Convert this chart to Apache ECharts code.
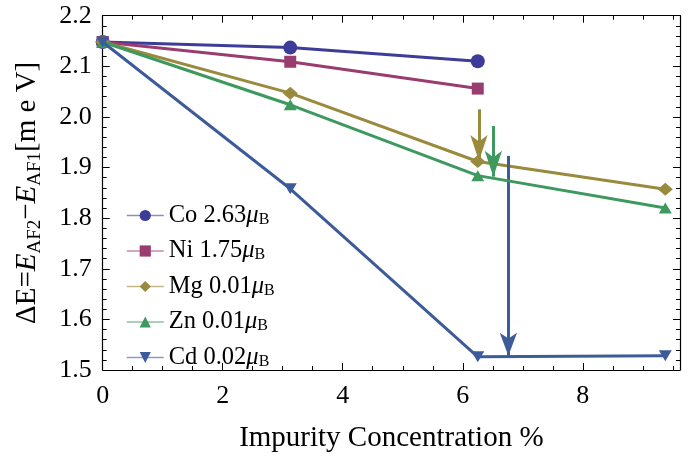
<!DOCTYPE html>
<html>
<head>
<meta charset="utf-8">
<script src="https://cdn.jsdelivr.net/npm/echarts@6/dist/echarts.min.js"></script>
<style>html,body{margin:0;padding:0;background:#fff}#c{width:688px;height:458px}</style>
</head>
<body>
<div id="c"></div>
<script>
// Data
const conc = [0, 3.125, 6.25, 9.375];
const coVals = [2.148, 2.137, 2.110];
const niVals = [2.148, 2.109, 2.056];
const mgVals = [2.148, 2.047, 1.912, 1.857];
const znVals = [2.148, 2.024, 1.884, 1.820];
const cdVals = [2.148, 1.858, 1.526, 1.528];
const names = ['Co', 'Ni', 'Mg', 'Zn', 'Cd'];
const moments = ['2.63', '1.75', '0.01', '0.01', '0.02'];
// arrows: [x, yStart, yTip]
const mgArrow = [6.27, 2.015, 1.913];
const znArrow = [6.51, 1.982, 1.882];
const cdArrow = [6.76, 1.923, 1.528];
const xTicks = [0, 2, 4, 6, 8];
const yTicks = [1.5, 1.6, 1.7, 1.8, 1.9, 2.0, 2.1, 2.2];

const colors = ['#3d3d99', '#993d71', '#998a3d', '#3d995e', '#3d5b99'];
const FONT = 'Liberation Serif';

function pts(vals) { return vals.map((v, i) => [conc[i], v]); }
function arrow(a, color, size) {
  return {
    silent: true,
    symbol: ['none', 'arrow'],
    symbolSize: size,
    label: { show: false },
    lineStyle: { color: color, width: 3, type: 'solid' },
    emphasis: { disabled: true },
    data: [[{ coord: [a[0], a[1]] }, { coord: [a[0], a[2]] }]]
  };
}
const symbols = ['circle', 'rect', 'diamond', 'triangle', 'triangle'];
const symSizes = [14, 12, [15, 13], [13, 11], [13, 11]];
const rots = [0, 0, 0, 0, 180];
const valsAll = [coVals, niVals, mgVals, znVals, cdVals];
const arrows = [null, null, mgArrow, znArrow, cdArrow];
const arrowSizes = [null, null, [13, 26], [13, 26], [13, 23]];

const series = names.map((n, i) => {
  const s = {
    name: n,
    type: 'line',
    data: pts(valsAll[i]),
    symbol: symbols[i],
    symbolSize: symSizes[i],
    symbolRotate: rots[i],
    showAllSymbol: true,
    lineStyle: { color: colors[i], width: 3 },
    itemStyle: { color: colors[i] },
    emphasis: { disabled: true },
    z: 2 + i
  };
  if (arrows[i]) s.markLine = arrow(arrows[i], colors[i], arrowSizes[i]);
  return s;
});

const tickStyle = { inside: true, length: 7, lineStyle: { color: '#000', width: 1 } };
const minorStyle = { show: true, length: 4, lineStyle: { color: '#000', width: 1 } };
const axisLine = { show: true, onZero: false, lineStyle: { color: '#000', width: 1.2 } };

const chart = echarts.init(document.getElementById('c'), null, { renderer: 'canvas' });
chart.setOption({
  animation: false,
  backgroundColor: '#fff',
  grid: { left: 102.7, top: 15.7, right: 8, bottom: 84.7 },
  legend: {
    orient: 'vertical',
    left: 126,
    top: 203,
    padding: 0,
    itemWidth: 37,
    itemHeight: 14,
    itemGap: 10.5,
    lineStyle: { width: 1.5, opacity: 0.6 },
    data: names,
    formatter: function (n) {
      const i = names.indexOf(n);
      return '{t|' + n + ' ' + moments[i] + '}{mu|μ}{sub|B}';
    },
    textStyle: {
      fontFamily: FONT,
      fontSize: 24.5,
      color: '#000',
      rich: {
        t: { fontFamily: FONT, fontSize: 24.5, lineHeight: 24, color: '#000' },
        mu: { fontFamily: FONT, fontSize: 24.5, fontStyle: 'italic', lineHeight: 24, color: '#000' },
        sub: { fontFamily: FONT, fontSize: 16, lineHeight: 24, verticalAlign: 'bottom', padding: [8, 0, 0, 0], color: '#000' }
      }
    }
  },
  xAxis: [{
    type: 'value', min: 0, max: 9.62, interval: 2,
    axisLine: axisLine,
    axisTick: tickStyle,
    minorTick: Object.assign({ splitNumber: 4 }, minorStyle),
    splitLine: { show: false },
    axisLabel: {
      fontFamily: FONT, fontSize: 26, color: '#000', margin: 13,
      showMaxLabel: false,
      formatter: v => xTicks.indexOf(v) >= 0 ? String(v) : ''
    },
    name: 'Impurity Concentration %',
    nameLocation: 'middle',
    nameGap: 54,
    nameTextStyle: { fontFamily: FONT, fontSize: 29, color: '#000' }
  }, {
    type: 'value', min: 0, max: 9.62, interval: 2, position: 'top',
    axisLine: axisLine,
    axisTick: tickStyle,
    minorTick: Object.assign({ splitNumber: 4 }, minorStyle),
    splitLine: { show: false },
    axisLabel: { show: false }
  }],
  yAxis: [{
    type: 'value', min: 1.5, max: 2.2, interval: 0.1,
    axisLine: axisLine,
    axisTick: tickStyle,
    minorTick: Object.assign({ splitNumber: 5 }, minorStyle),
    splitLine: { show: false },
    axisLabel: {
      fontFamily: FONT, fontSize: 26, color: '#000', margin: 11,
      formatter: v => v.toFixed(1)
    },
    name: '{n|ΔE=}{i|E}{s|AF2}{n|−}{i|E}{s|AF1}{n|[m e V]}',
    nameLocation: 'middle',
    nameRotate: 90,
    nameGap: 58,
    nameTextStyle: {
      fontFamily: FONT, fontSize: 29, color: '#000',
      rich: {
        n: { fontFamily: FONT, fontSize: 29, lineHeight: 34, color: '#000' },
        i: { fontFamily: FONT, fontSize: 29, fontStyle: 'italic', lineHeight: 34, color: '#000' },
        s: { fontFamily: FONT, fontSize: 19, lineHeight: 34, verticalAlign: 'bottom', padding: [12, 0, 0, 0], color: '#000' }
      }
    }
  }, {
    type: 'value', min: 1.5, max: 2.2, interval: 0.1, position: 'right',
    axisLine: axisLine,
    axisTick: tickStyle,
    minorTick: Object.assign({ splitNumber: 5 }, minorStyle),
    splitLine: { show: false },
    axisLabel: { show: false }
  }],
  series: series
});
</script>
</body>
</html>
